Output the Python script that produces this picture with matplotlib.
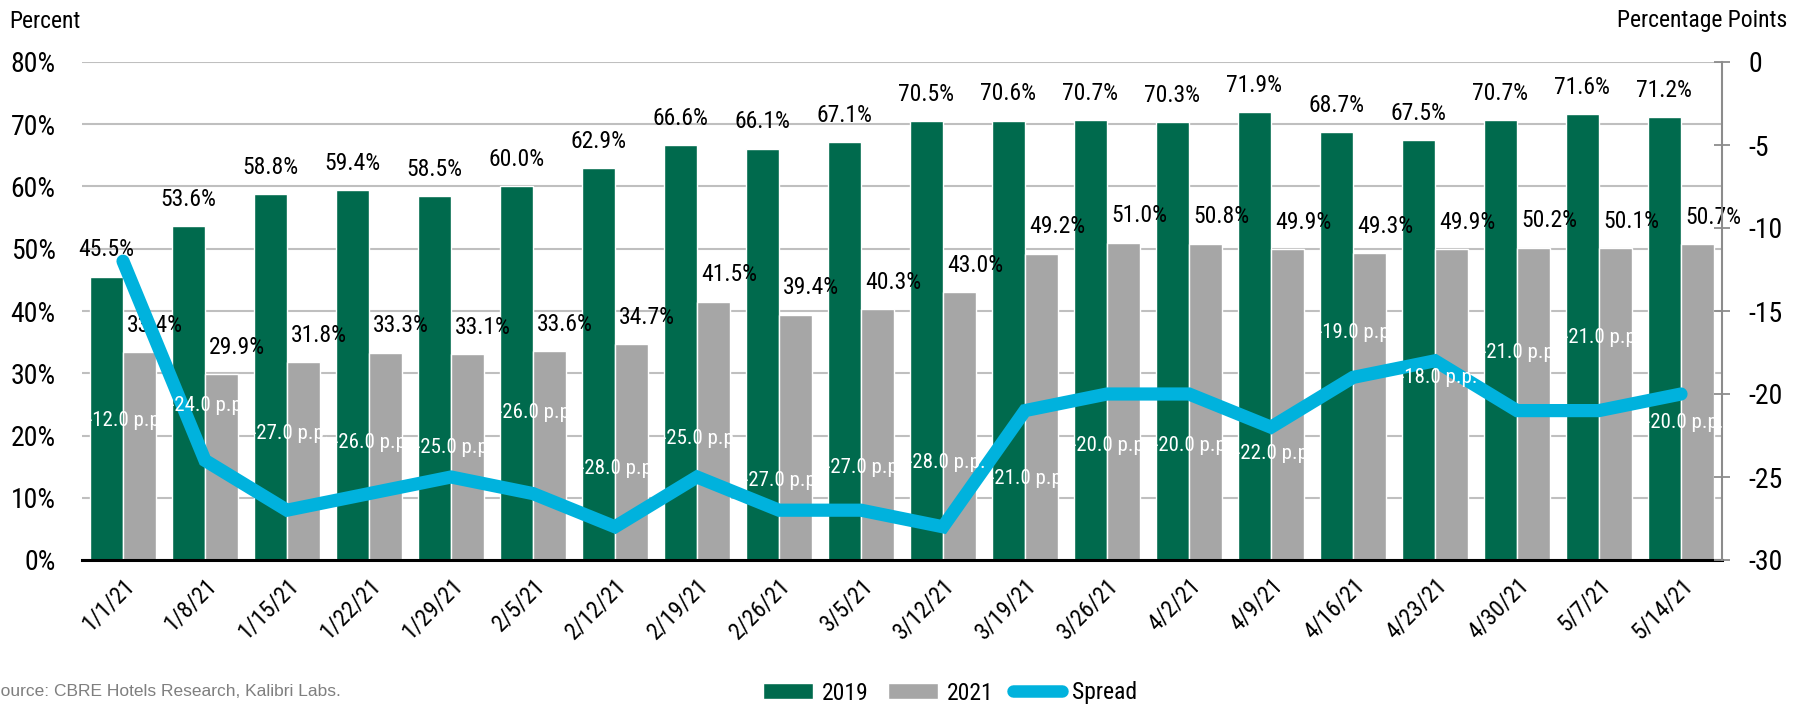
import matplotlib
matplotlib.use("Agg")
import matplotlib.pyplot as plt
from matplotlib import font_manager as fm
from matplotlib.lines import Line2D
from matplotlib.patches import Patch
import numpy as np

# ---------------- data ----------------
weeks = ["1/1/21", "1/8/21", "1/15/21", "1/22/21", "1/29/21", "2/5/21", "2/12/21",
         "2/19/21", "2/26/21", "3/5/21", "3/12/21", "3/19/21", "3/26/21", "4/2/21",
         "4/9/21", "4/16/21", "4/23/21", "4/30/21", "5/7/21", "5/14/21"]
occ_2019 = [45.5, 53.6, 58.8, 59.4, 58.5, 60.0, 62.9, 66.6, 66.1, 67.1,
            70.5, 70.6, 70.7, 70.3, 71.9, 68.7, 67.5, 70.7, 71.6, 71.2]
occ_2021 = [33.4, 29.9, 31.8, 33.3, 33.1, 33.6, 34.7, 41.5, 39.4, 40.3,
            43.0, 49.2, 51.0, 50.8, 49.9, 49.3, 49.9, 50.2, 50.1, 50.7]
spread = [-12, -24, -27, -26, -25, -26, -28, -25, -27, -27,
          -28, -21, -20, -20, -22, -19, -18, -21, -21, -20]
left_ticks = [0, 10, 20, 30, 40, 50, 60, 70, 80]
right_ticks = [-30, -25, -20, -15, -10, -5, 0]

# layout: vertical position (right-axis units) of each spread label
spread_label_y = [-21.6, -20.7, -22.4, -22.9, -23.2, -21.1, -24.5, -22.7, -25.2, -24.4,
                  -24.1, -25.1, -23.1, -23.1, -23.6, -16.3, -19.0, -17.5, -16.6, -21.7]

# ---------------- fonts ----------------
def pick(names):
    for n in names:
        try:
            fm.findfont(fm.FontProperties(family=n), fallback_to_default=False)
            return n
        except Exception:
            pass
    return "DejaVu Sans"

COND = pick(["Liberation Sans Narrow", "Roboto Condensed", "Open Sans Condensed", "Liberation Sans"])
REG = pick(["Liberation Sans", "Lato", "DejaVu Sans"])
plt.rcParams["font.family"] = [COND, "DejaVu Sans"]
plt.rcParams["axes.unicode_minus"] = False

GREEN = "#006A4D"
GRAY = "#A6A6A6"
BLUE = "#00B2DD"
GRID = "#BFBFBF"

W, H = 1799, 706
fig = plt.figure(figsize=(W / 100, H / 100), dpi=100)
L, R, T, B = 82, 1722, 62, 560
ax = fig.add_axes([L / W, 1 - B / H, (R - L) / W, (B - T) / H])
ax2 = ax.twinx()

x = np.arange(len(weeks))
bw = 0.4
off = 0.205
ax.bar(x - off, occ_2019, width=bw, color=GREEN, edgecolor="white", linewidth=1.0, zorder=2)
ax.bar(x + off, occ_2021, width=bw, color=GRAY, edgecolor="white", linewidth=1.0, zorder=2)

ax.set_xlim(-0.5, len(weeks) - 0.5)
ax.set_ylim(0, 80)
ax.set_yticks(left_ticks)
ax.set_yticklabels([f"{v}%" for v in left_ticks], fontsize=20)
ax.yaxis.grid(True, color=GRID, linewidth=1.5, zorder=0)
ax.set_axisbelow(True)
ax.tick_params(axis="y", length=0, pad=19)
ax.set_xticks(x)
ax.set_xticklabels(weeks, fontsize=17, rotation=45, ha="right", va="top", rotation_mode="anchor")
ax.tick_params(axis="x", length=0, pad=10)
for s in ["left", "right", "top"]:
    ax.spines[s].set_visible(False)
ax.spines["bottom"].set_color("black")
ax.spines["bottom"].set_linewidth(2.2)
ax.spines["bottom"].set_zorder(5)

# right axis
ax2.set_ylim(-30, 0)
ax2.set_yticks(right_ticks)
ax2.set_yticklabels([str(v) for v in right_ticks], fontsize=20)
ax2.tick_params(axis="y", direction="inout", length=12, width=1.3, color="#8C8C8C", pad=13)
for s in ["left", "top", "bottom"]:
    ax2.spines[s].set_visible(False)
ax2.spines["right"].set_color("#8C8C8C")
ax2.spines["right"].set_linewidth(1.5)

ax2.plot(x, spread, color=BLUE, linewidth=9.5, solid_capstyle="round",
         solid_joinstyle="miter", zorder=3)

# data labels for bars
for xi, v in zip(x, occ_2019):
    ax.annotate(f"{v:.1f}%", (xi - off, v), xytext=(0, 11), textcoords="offset points",
                ha="center", va="bottom", fontsize=17, color="black", zorder=6,
                annotation_clip=False)
for xi, v in zip(x, occ_2021):
    ax.annotate(f"{v:.1f}%", (xi + off, v), xytext=(11, 11), textcoords="offset points",
                ha="center", va="bottom", fontsize=17, color="black", zorder=6,
                annotation_clip=False)

# spread labels (white)
for xi, v, ly in zip(x, spread, spread_label_y):
    ax2.annotate(f"{v:.1f} p.p.", (xi, ly), xytext=(2.5, 0), textcoords="offset points",
                 ha="center", va="center", fontsize=15, color="white", zorder=7)

# axis titles
fig.text(9 / W, 1 - 21 / H, "Percent", fontsize=17, ha="left", va="center")
fig.text(1787 / W, 1 - 21 / H, "Percentage Points", fontsize=17, ha="right", va="center")

# source
fig.text(-11 / W, 1 - 692 / H, "Source: CBRE Hotels Research, Kalibri Labs.",
         fontsize=12.5, color="#7F7F7F", ha="left", va="center", family=[REG, "DejaVu Sans"])

# legend
handles = [Patch(facecolor=GREEN, edgecolor="white"),
           Patch(facecolor=GRAY, edgecolor="white"),
           Line2D([0], [0], color=BLUE, linewidth=9, solid_capstyle="round")]
fig.legend(handles, ["2019", "2021", "Spread"], loc="center",
           bbox_to_anchor=(950 / W, 1 - 693 / H), ncol=3, frameon=False,
           fontsize=17, handlelength=2.1, handleheight=0.64, handletextpad=0.4,
           columnspacing=0.8, borderpad=0)

fig.savefig("out.png", dpi=100)
